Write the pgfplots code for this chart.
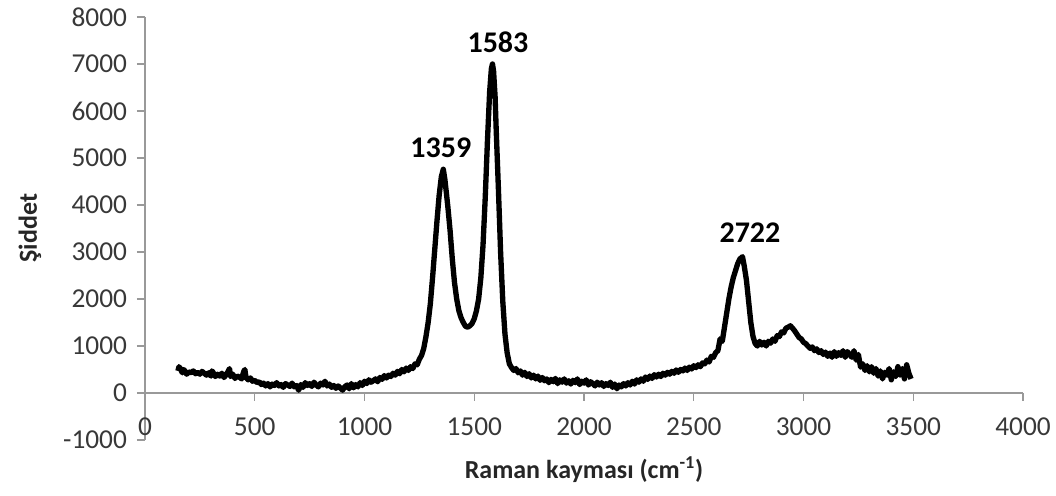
\documentclass[border=0pt]{standalone}
\usepackage{fontspec}
\setmainfont{Carlito}
\usepackage{pgfplots}
\pgfplotsset{compat=1.18}
\pgfplotstableread{
x y
150 470
155 560
160 520
170 430
175 500
180 480
190 400
200 450
210 430
220 470
230 410
240 440
250 400
260 460
270 420
280 380
290 430
300 360
305 470
310 440
320 350
330 400
340 360
350 420
360 330
370 390
380 470
385 520
390 350
400 400
410 310
420 360
430 340
440 300
450 460
455 500
460 330
470 280
480 320
490 250
500 270
510 220
520 240
530 180
540 210
550 150
560 200
570 130
580 190
590 160
600 220
610 150
620 180
630 120
640 200
650 170
660 140
670 210
680 130
690 160
700 60
710 180
720 120
730 220
740 160
750 200
760 140
770 230
780 170
790 130
800 210
810 170
820 250
830 150
840 190
850 120
860 160
870 100
880 150
890 110
900 60
910 130
920 170
930 90
940 200
950 110
960 180
970 130
980 220
990 160
1000 250
1010 200
1020 280
1030 230
1040 260
1050 300
1060 240
1070 330
1080 290
1090 370
1100 320
1110 380
1120 350
1130 420
1140 380
1150 460
1160 410
1170 500
1180 450
1190 530
1200 480
1210 560
1220 520
1230 620
1240 600
1250 720
1260 800
1270 950
1280 1200
1290 1500
1300 1900
1310 2450
1320 3050
1330 3650
1340 4200
1350 4600
1359 4760
1366 4550
1372 4300
1380 3950
1390 3450
1400 2850
1410 2350
1420 2000
1430 1750
1440 1600
1450 1500
1460 1420
1470 1400
1480 1430
1490 1480
1500 1580
1510 1750
1520 2000
1530 2450
1540 3150
1550 4150
1560 5350
1570 6400
1578 6900
1583 7000
1588 6850
1595 6300
1600 5600
1610 4350
1620 3000
1630 1950
1640 1250
1650 850
1660 620
1670 540
1680 480
1690 520
1700 430
1710 470
1720 380
1730 440
1740 350
1750 410
1760 320
1770 380
1780 300
1790 360
1800 270
1810 330
1820 260
1830 300
1840 220
1850 290
1860 240
1870 310
1880 200
1890 280
1900 230
1910 300
1920 210
1930 260
1940 190
1950 270
1960 220
1970 300
1980 180
1990 250
2000 210
2010 280
2020 170
2030 240
2040 200
2050 150
2060 230
2070 170
2080 220
2090 140
2100 200
2110 160
2120 230
2130 120
2140 190
2150 90
2160 170
2170 130
2180 200
2190 150
2200 220
2210 170
2220 250
2230 190
2240 280
2250 230
2260 300
2270 250
2280 340
2290 290
2300 360
2310 310
2320 390
2330 340
2340 400
2350 350
2360 420
2370 380
2380 440
2390 400
2400 460
2410 420
2420 490
2430 440
2440 500
2450 470
2460 530
2470 480
2480 550
2490 510
2500 580
2510 540
2520 600
2530 560
2540 640
2550 620
2560 700
2570 660
2580 780
2590 760
2600 860
2610 900
2620 1150
2630 1100
2640 1400
2650 1700
2660 2000
2670 2250
2680 2450
2690 2600
2700 2750
2710 2850
2722 2900
2730 2700
2740 2400
2750 1950
2760 1500
2770 1200
2780 1050
2790 1000
2800 1100
2810 1020
2820 1080
2830 1000
2840 1100
2850 1060
2860 1150
2870 1100
2880 1220
2890 1200
2900 1300
2910 1280
2920 1380
2930 1400
2940 1430
2950 1380
2960 1320
2970 1250
2980 1180
2990 1150
3000 1080
3010 1050
3020 1000
3030 950
3040 980
3050 900
3060 940
3070 860
3080 900
3090 820
3100 870
3110 780
3120 850
3130 760
3140 880
3150 780
3160 860
3170 800
3180 900
3190 760
3200 880
3210 820
3220 760
3230 900
3240 700
3250 820
3260 550
3270 620
3280 480
3290 580
3300 450
3310 560
3320 420
3330 520
3340 360
3350 470
3360 300
3370 440
3380 380
3390 520
3400 280
3410 450
3420 350
3430 560
3440 380
3450 520
3460 300
3470 600
3480 420
3490 300
}\spectrum
\begin{document}
\begin{tikzpicture}
\begin{axis}[
  scale only axis, width=658.5pt, height=317.25pt,
  xmin=0, xmax=4000, ymin=-1000, ymax=8000,
  axis x line=middle, axis y line=left,
  axis line style={-, color=black!40, line width=1pt},
  xtick={0,500,...,4000}, ytick={-1000,0,...,8000},
  hide obscured x ticks=false, hide obscured y ticks=false,
  tick align=outside, major tick length=6pt,
  tick style={color=black!40, line width=1pt},
  /pgf/number format/1000 sep={},
  /pgf/number format/assume math mode=true,
  tick label style={font=\fontsize{20.5}{23}\selectfont, color=black!78},
  xticklabel style={yshift=-9pt},
  yticklabel style={xshift=-4pt},
  xlabel={\textbf{Raman kayması (cm\textsuperscript{-1})}},
  ylabel={\textbf{Şiddet}},
  label style={font=\fontsize{19.5}{22}\selectfont, color=black!85},
  xlabel style={at={(axis description cs:0.5,-0.071)}, anchor=center},
  ylabel style={at={(axis description cs:-0.131,0.501)}, anchor=center, rotate=0},
  clip=false,
]
\addplot[black, line width=4pt, line join=round] table[x=x,y=y] {\spectrum};
\node[font=\bfseries\fontsize{22.5}{26}\selectfont] at (axis cs:1348,5224) {1359};
\node[font=\bfseries\fontsize{22.5}{26}\selectfont] at (axis cs:1608,7463) {1583};
\node[font=\bfseries\fontsize{22.5}{26}\selectfont] at (axis cs:2756,3411) {2722};
\path (rel axis cs:-0.16515,-0.13239) rectangle (rel axis cs:1.03759,1.04019);
\end{axis}
\end{tikzpicture}
\end{document}
